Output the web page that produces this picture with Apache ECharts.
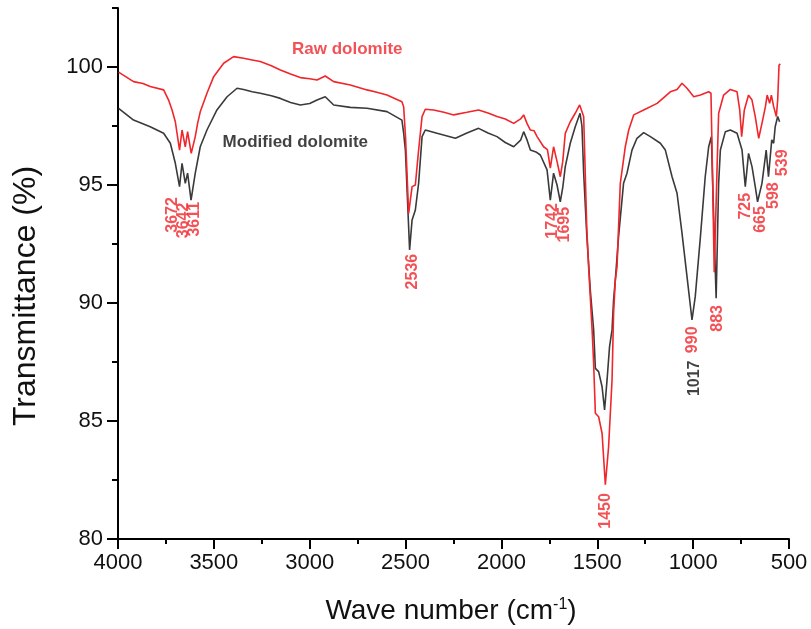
<!DOCTYPE html>
<html>
<head>
<meta charset="utf-8">
<script src="https://cdn.jsdelivr.net/npm/echarts@6/dist/echarts.min.js"></script>
<style>html,body{margin:0;padding:0;background:#fff}#c{width:811px;height:629px}</style>
</head>
<body>
<div id="c"></div>
<script>
// ---- data ----
var yTicks = [80, 85, 90, 95, 100];
var yMinorTicks = [82.5, 87.5, 92.5, 97.5, 102.5];

var rawWn = [3997,3919,3870,3832,3762,3736,3718,3701,3679,3666,3649,3637,3618,3597,3585,3571,3536,3501,3449,3397,3345,3300,3258,3200,3153,3100,3049,3000,2962,2919,2875,2788,2701,2650,2597,2519,2510,2500,2484,2466,2449,2432,2414,2397,2354,2300,2249,2180,2119,2070,2023,1980,1936,1900,1884,1866,1849,1830,1814,1780,1760,1745,1728,1710,1693,1680,1667,1641,1615,1592,1571,1555,1545,1527,1519,1510,1493,1475,1458,1441,1423,1415,1406,1397,1380,1354,1336,1310,1258,1188,1119,1084,1058,1032,997,962,919,907,898,890,875,867,841,806,771,757,747,733,711,693,676,658,641,623,614,601,592,580,566,559,552,545];
var rawT = [99.78,99.38,99.3,99.17,99.03,98.6,98.18,97.68,96.48,97.33,96.62,97.26,96.34,97.05,97.6,98.1,98.89,99.59,100.16,100.44,100.37,100.3,100.23,100.05,99.87,99.7,99.55,99.5,99.45,99.62,99.38,99.24,99.03,98.93,98.81,98.53,98.32,97.0,93.8,94.93,95.0,96.48,97.9,98.21,98.18,98.08,97.97,98.08,98.18,98.05,97.9,97.8,97.61,97.8,97.97,97.6,97.33,97.3,97.05,96.62,96.5,95.71,96.62,96.0,95.35,96.0,97.19,97.68,98.04,98.39,97.9,93.2,91.5,88.86,87.44,85.33,85.18,84.48,82.3,83.91,86.74,89.56,90.97,91.54,95.07,96.62,97.33,97.97,98.18,98.46,98.95,99.05,99.31,99.1,98.74,98.81,98.95,98.89,95.07,91.3,95.78,98.04,98.81,99.05,98.95,98.18,97.05,98.18,98.81,98.6,97.9,96.98,97.61,98.32,98.81,98.46,98.81,98.32,97.9,98.6,100.08,100.13];

var modWn = [3997,3919,3832,3762,3727,3701,3679,3666,3649,3637,3619,3597,3571,3536,3484,3431,3379,3345,3300,3258,3200,3153,3100,3049,3000,2962,2919,2875,2788,2701,2597,2519,2510,2501,2479,2466,2449,2432,2414,2397,2336,2240,2180,2119,2070,2023,1980,1936,1900,1884,1866,1849,1820,1797,1762,1745,1728,1710,1693,1680,1667,1641,1615,1590,1580,1571,1555,1536,1519,1510,1493,1475,1462,1449,1436,1423,1415,1406,1389,1363,1345,1319,1293,1258,1223,1171,1145,1110,1084,1058,1032,1006,989,962,937,919,905,893,880,867,858,832,806,771,745,728,711,693,676,664,641,619,607,590,580,572,559,549];
var modT = [98.25,97.75,97.47,97.19,96.77,95.92,94.93,95.92,95.07,95.5,94.36,95.5,96.62,97.33,98.18,98.74,99.1,99.05,98.95,98.89,98.78,98.67,98.5,98.39,98.45,98.6,98.74,98.39,98.29,98.25,98.11,97.75,97.2,96.48,92.25,93.52,93.94,95.07,97.05,97.33,97.19,96.98,97.2,97.4,97.2,97.05,96.8,96.62,96.9,97.26,96.9,96.48,96.4,96.27,95.64,94.36,95.5,95.0,94.29,94.9,95.78,96.77,97.47,98.04,97.5,95.5,92.9,90.5,88.86,87.23,87.09,86.45,85.47,86.74,88.15,88.86,90.13,90.97,92.81,95.07,95.5,96.48,96.98,97.22,97.05,96.77,96.48,95.35,94.65,92.95,91.12,89.28,90.27,92.81,95.35,96.62,97.05,93.66,90.2,95.07,96.48,97.26,97.33,97.19,96.48,94.93,96.34,95.78,94.93,94.29,95.07,96.48,95.35,96.91,96.77,97.47,97.9,97.68];

// peak annotations: [wavenumber, transmittance, text]
var redPeakLabels = [[3717,93.73,'3672'],[3657,93.5,'3642'],[3599,93.55,'3611'],[2461,91.33,'2536'],[1732,93.48,'1742'],[1669,93.32,'1695'],[1455,81.19,'1450'],[1002,88.44,'990'],[870,89.35,'883'],[724,94.1,'725'],[649,93.54,'665'],[580,94.55,'598'],[536,95.94,'539']];
var blackPeakLabels = [[995,86.81,'1017']];
var rawName = 'Raw dolomite';
var modName = 'Modified dolomite';
var rawNamePos = [2804, 100.76];
var modNamePos = [3075, 96.8];
var xTitle = 'Wave number (cm{sup|-1})';
var yTitle = 'Transmittance (%)';

function pairs(xs, ys){ return xs.map(function(x,i){ return [x, ys[i]]; }); }

var FONT = "'Liberation Sans', Arial, sans-serif";
var RED = '#f0262b', DARK = '#3a3a3a';

var chart = echarts.init(document.getElementById('c'), null, {renderer:'canvas'});
var peakLabel = function(color){
  return {show:true, position:'inside', rotate:90, formatter:function(p){return p.value[2];},
          color:color, fontSize:16, fontWeight:'bold', fontFamily:FONT};
};
chart.setOption({
  animation:false,
  backgroundColor:'#fff',
  grid:{left:118, right:22, top:8, bottom:90, containLabel:false},
  graphic:[
    {type:'text', x:451, y:611, silent:true,
     style:{text:xTitle, fill:'#111', fontSize:28, fontFamily:FONT, align:'center', verticalAlign:'middle',
            rich:{sup:{fontSize:16, verticalAlign:'top', fill:'#111', fontFamily:FONT}}}},
    {type:'text', x:26, y:296, rotation:Math.PI/2, silent:true,
     style:{text:yTitle, fill:'#111', fontSize:32, fontFamily:FONT, align:'center', verticalAlign:'middle'}}
  ],
  xAxis:{
    type:'value', inverse:true, min:500, max:4000, interval:500,
    axisLine:{show:true, onZero:false, lineStyle:{color:'#000', width:2}},
    axisTick:{show:true, length:10, lineStyle:{color:'#000', width:2}},
    minorTick:{show:true, splitNumber:2, length:5, lineStyle:{color:'#000', width:2}},
    axisLabel:{fontSize:22, color:'#111', margin:13, fontFamily:FONT,
               formatter:function(v){ return String(v); }},
    splitLine:{show:false}, minorSplitLine:{show:false}
  },
  yAxis:[{
    type:'value', min:80, max:102.5, interval:5,
    axisLine:{show:true, onZero:false, lineStyle:{color:'#000', width:2}},
    axisTick:{show:true, length:11, lineStyle:{color:'#000', width:2}, customValues:yTicks},
    axisLabel:{fontSize:22, color:'#111', margin:15, fontFamily:FONT, customValues:yTicks,
               formatter:function(v){ return String(v); }},
    splitLine:{show:false}
  },{
    type:'value', min:80, max:102.5, interval:2.5, position:'left', offset:0,
    axisLine:{show:false},
    axisTick:{show:true, length:6, lineStyle:{color:'#000', width:2}, customValues:yMinorTicks},
    axisLabel:{show:false}, splitLine:{show:false}
  }],
  series:[
    {type:'line', name:rawName, data:pairs(rawWn, rawT), showSymbol:false, symbol:'none',
     lineStyle:{color:RED, width:1.6}, z:3},
    {type:'line', name:modName, data:pairs(modWn, modT), showSymbol:false, symbol:'none',
     lineStyle:{color:DARK, width:1.6}, z:2},
    {type:'scatter', data:redPeakLabels, symbolSize:0, label:peakLabel(RED), silent:true, z:5},
    {type:'scatter', data:blackPeakLabels, symbolSize:0, label:peakLabel('#111'), silent:true, z:5},
    {type:'scatter', data:[[rawNamePos[0], rawNamePos[1], rawName]], symbolSize:0, silent:true, z:5,
     label:{show:true, position:'inside', formatter:function(p){return p.value[2];}, color:RED, fontSize:17, fontWeight:'bold', fontFamily:FONT}},
    {type:'scatter', data:[[modNamePos[0], modNamePos[1], modName]], symbolSize:0, silent:true, z:5,
     label:{show:true, position:'inside', formatter:function(p){return p.value[2];}, color:'#111', fontSize:17, fontWeight:'bold', fontFamily:FONT}}
  ]
});
</script>
</body>
</html>
